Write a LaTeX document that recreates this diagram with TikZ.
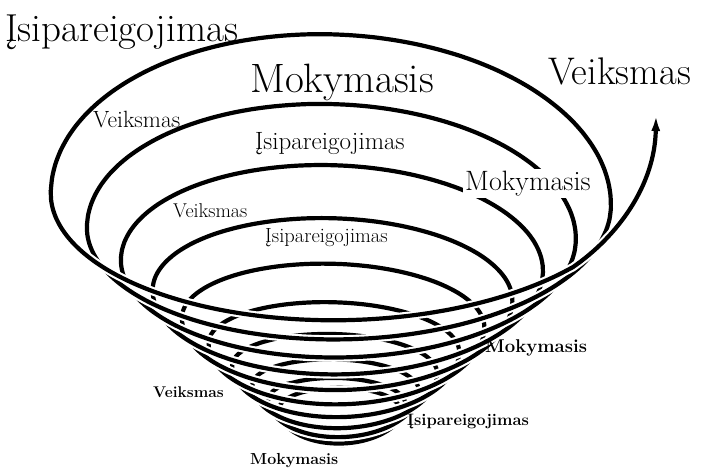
\documentclass[tikz,border=0pt]{standalone}
\usepackage{fontspec}
\usetikzlibrary{arrows.meta}

\begin{document}
\begin{tikzpicture}[x=1pt, y=-1pt,
  declare function={
    coilr(\t)=60+220*(max(\t-90,0.01)/3240)^1.5;
    coilyc(\t)=467-0.955*coilr(\t);
    coilhb(\t)=15+150*(coilr(\t)/280)^2;
    coilhf(\t)=9.4+0.432*coilr(\t);
    px(\t)=340+coilr(\t)*cos(\t);
    py(\t)=coilyc(\t)-coilhb(\t)*max(sin(\t),0)-coilhf(\t)*min(sin(\t),0);
  },
  coil/.style={line width=4.2pt, line cap=round},
  front/.style={coil, preaction={draw=white, line width=8.5pt}},
  word/.style={inner sep=0pt, anchor=base west},
  big/.style={word, font=\fontsize{39}{39}\selectfont},
  mid/.style={word, font=\fontsize{25}{25}\selectfont},
  small/.style={word, font=\fontsize{20.5}{20.5}\selectfont},
  low/.style={word, font=\fontsize{16.5}{16.5}\selectfont\bfseries},
]
\useasboundingbox (0,0) rectangle (702,468);

% back halves of the coil
\foreach \n in {0,...,9} {
  \draw[coil] plot[domain=360*\n:360*\n+180, samples=40, smooth, variable=\t]
    ({px(\t)},{py(\t)});
}

% front halves, inner to outer
\draw[front] plot[domain=-90:0, samples=20, smooth, variable=\t] ({px(\t)},{py(\t)});
\foreach \n in {0,...,8} {
  \draw[front] plot[domain=360*\n+180:360*\n+360, samples=40, smooth, variable=\t]
    ({px(\t)},{py(\t)});
}
\draw[front, -{Latex[length=16pt, width=9pt]}]
  plot[domain=3420:3560, samples=35, smooth, variable=\t] ({px(\t)},{py(\t)})
  .. controls (618,236) and (655,185) .. (656,115);

% outer words
\node[big] (com1) at (5,42) {Įsipareigojimas};
\node[big, font=\fontsize{41}{41}\selectfont] (lea1) at (250,93) {Mokymasis};
\node[big, font=\fontsize{38.5}{38.5}\selectfont] (act1) at (548,85) {Veiksmas};

% middle words
\node[mid, font=\fontsize{23.5}{23.5}\selectfont] (act2) at (93,128) {Veiksmas};
\node[mid] (com2) at (255,150) {Įsipareigojimas};
\node[mid, font=\fontsize{28}{28}\selectfont, fill=white, inner sep=2pt]
  (lea2) at (463,190) {Mokymasis};
\node[small, font=\fontsize{20}{20}\selectfont] (act3) at (173,218) {Veiksmas};
\node[small] (com3) at (265,242) {Įsipareigojimas};

% words round the tip
\node[low, font=\fontsize{18.5}{18.5}\selectfont\bfseries] (lea3) at (485,352) {Mokymasis};
\node[low, font=\fontsize{15.5}{15.5}\selectfont\bfseries] (act4) at (153,397) {Veiksmas};
\node[low] (com4) at (407,425) {Įsipareigojimas};
\node[low, font=\fontsize{16}{16}\selectfont\bfseries] (lea4) at (250,464) {Mokymasis};

\end{tikzpicture}
\end{document}
